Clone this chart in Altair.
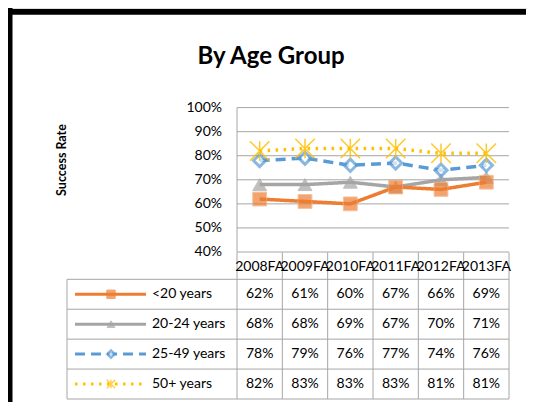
import altair as alt
import pandas as pd

# ---------------- data ----------------
periods = ["2008FA", "2009FA", "2010FA", "2011FA", "2012FA", "2013FA"]
series_names = ["<20 years", "20-24 years", "25-49 years", "50+ years"]
lt20 = [0.62, 0.61, 0.60, 0.67, 0.66, 0.69]
age20_24 = [0.68, 0.68, 0.69, 0.67, 0.70, 0.71]
age25_49 = [0.78, 0.79, 0.76, 0.77, 0.74, 0.76]
age50p = [0.82, 0.83, 0.83, 0.83, 0.81, 0.81]
y_ticks = [0.4, 0.5, 0.6, 0.7, 0.8, 0.9, 1.0]
title_text = "By Age Group"
y_title_text = "Success Rate"

series_values = [lt20, age20_24, age25_49, age50p]

rows = []
for si, (name, vals) in enumerate(zip(series_names, series_values)):
    for pi, (p, v) in enumerate(zip(periods, vals)):
        rows.append({"series": name, "sidx": si, "period": p, "pidx": pi, "value": v})
df = pd.DataFrame(rows)
df_periods = pd.DataFrame({"period": periods, "pidx": list(range(len(periods)))})
df_series = pd.DataFrame({"series": series_names, "sidx": list(range(len(series_names)))})
df_ticks = pd.DataFrame({"v": y_ticks})
df_cols = pd.DataFrame({"k": list(range(len(periods) + 1))})
df_rows = pd.DataFrame({"r": list(range(len(series_names) + 1))})

# ---------------- styles ----------------
FONT = "Lato"
FS = 14
GRID = "#a6a6a6"
colors = {"<20 years": "#ED7D31", "20-24 years": "#A5A5A5",
          "25-49 years": "#5B9BD5", "50+ years": "#FFC000"}
dashes = {"<20 years": [1, 0], "20-24 years": [1, 0],
          "25-49 years": [10, 6], "50+ years": [2.5, 5.5]}
STAR = "M-1,-1L1,1M-1,1L1,-1M0,-1L0,1"

W, H = 519, 394
XS = alt.Scale(domain=[-3.75, 6], range=[59, 501], zero=False, nice=False)
YP = alt.Scale(domain=[0.4, 1.0], range=[244, 99.6], zero=False, nice=False)
YR = alt.Scale(domain=[0, 4], range=[271.3, 391], zero=False, nice=False)

layers = []

# plot gridlines
layers.append(alt.Chart(df_ticks).mark_rule(color=GRID, strokeWidth=1).encode(
    x=alt.XDatum(0, type="quantitative", scale=XS, axis=None),
    x2=alt.X2Datum(6),
    y=alt.Y("v:Q", scale=YP, axis=None)))
# plot left axis line
layers.append(alt.Chart(df_ticks.head(1)).mark_rule(color=GRID, strokeWidth=1).encode(
    x=alt.XDatum(0, type="quantitative", scale=XS, axis=None),
    y=alt.YDatum(0.4, type="quantitative", scale=YP, axis=None),
    y2=alt.Y2Datum(1.0)))
# table vertical dividers
layers.append(alt.Chart(df_cols).mark_rule(color=GRID, strokeWidth=1).encode(
    x=alt.X("k:Q", scale=XS, axis=None),
    y=alt.YDatum(-0.9, type="quantitative", scale=YR, axis=None),
    y2=alt.Y2Datum(4)))
# table horizontal lines
layers.append(alt.Chart(df_rows).mark_rule(color=GRID, strokeWidth=1).encode(
    x=alt.XDatum(-3.75, type="quantitative", scale=XS, axis=None),
    x2=alt.X2Datum(6),
    y=alt.Y("r:Q", scale=YR, axis=None)))
# table left edge
layers.append(alt.Chart(df_rows.head(1)).mark_rule(color=GRID, strokeWidth=1).encode(
    x=alt.XDatum(-3.75, type="quantitative", scale=XS, axis=None),
    y=alt.YDatum(0, type="quantitative", scale=YR, axis=None),
    y2=alt.Y2Datum(4)))

# y tick labels
layers.append(alt.Chart(df_ticks).mark_text(font=FONT, fontSize=FS, align="right",
                                             baseline="middle", dx=-15, color="#000").encode(
    x=alt.XDatum(0, type="quantitative", scale=XS, axis=None),
    y=alt.Y("v:Q", scale=YP, axis=None),
    text=alt.Text("v:Q", format=".0%")))

# series lines + markers
marker_props = {
    "<20 years": dict(shape="square", size=190, filled=True, fill="#ED7D31",
                      stroke="#F4A672", strokeWidth=1),
    "20-24 years": dict(shape="triangle-up", size=190, filled=True, fill="#A5A5A5",
                        stroke="#A5A5A5", strokeWidth=1),
    "25-49 years": dict(shape="diamond", size=150, filled=True, fill="white",
                        stroke="#5B9BD5", strokeWidth=3),
    "50+ years": dict(shape=STAR, size=380, filled=False, stroke="#FFC000",
                      strokeWidth=1.5, opacity=0.85),
}
legend_marker_props = {
    "<20 years": dict(shape="square", size=70, filled=True, fill="#ED7D31",
                      stroke="#ED7D31", strokeWidth=1),
    "20-24 years": dict(shape="triangle-up", size=60, filled=True, fill="#A5A5A5",
                        stroke="#A5A5A5", strokeWidth=1),
    "25-49 years": dict(shape="diamond", size=55, filled=True, fill="white",
                        stroke="#5B9BD5", strokeWidth=2.5),
    "50+ years": dict(shape=STAR, size=70, filled=False, stroke="#FFC000",
                      strokeWidth=1.5),
}
draw_order = ["20-24 years", "<20 years", "25-49 years", "50+ years"]
for name in draw_order:
    base = alt.Chart(df).transform_filter(alt.datum.series == name).transform_calculate(
        xc="datum.pidx + 0.5")
    layers.append(base.mark_line(color=colors[name], strokeWidth=3.5,
                                 strokeDash=dashes[name],
                                 strokeCap="butt").encode(
        x=alt.X("xc:Q", scale=XS, axis=None),
        y=alt.Y("value:Q", scale=YP, axis=None),
        order="pidx:Q"))
    layers.append(base.mark_point(**marker_props[name]).encode(
        x=alt.X("xc:Q", scale=XS, axis=None),
        y=alt.Y("value:Q", scale=YP, axis=None)))

# header labels
layers.append(alt.Chart(df_periods).transform_calculate(xc="datum.pidx + 0.5").mark_text(
    font=FONT, fontSize=FS, baseline="middle", color="#000").encode(
    x=alt.X("xc:Q", scale=XS, axis=None),
    y=alt.YDatum(-0.42, type="quantitative", scale=YR, axis=None),
    text="period:N"))

# table values
layers.append(alt.Chart(df).transform_calculate(
    xc="datum.pidx + 0.5", sc="datum.sidx + 0.5").mark_text(
    font=FONT, fontSize=FS, baseline="middle", color="#000").encode(
    x=alt.X("xc:Q", scale=XS, axis=None),
    y=alt.Y("sc:Q", scale=YR, axis=None),
    text=alt.Text("value:Q", format=".0%")))

# legend inside table
for name in series_names:
    lb = alt.Chart(df_series).transform_filter(alt.datum.series == name).transform_calculate(
        sc="datum.sidx + 0.5")
    layers.append(lb.mark_rule(color=colors[name], strokeWidth=3,
                               strokeDash=dashes[name], strokeCap="butt").encode(
        x=alt.value(67), x2=alt.value(138),
        y=alt.Y("sc:Q", scale=YR, axis=None)))
    layers.append(lb.mark_point(**legend_marker_props[name]).encode(
        x=alt.value(103),
        y=alt.Y("sc:Q", scale=YR, axis=None)))
layers.append(alt.Chart(df_series).transform_calculate(sc="datum.sidx + 0.5").mark_text(
    font=FONT, fontSize=FS, align="left", baseline="middle", color="#000").encode(
    x=alt.value(144),
    y=alt.Y("sc:Q", scale=YR, axis=None),
    text="series:N"))

# titles
layers.append(alt.Chart(pd.DataFrame({"t": [title_text]})).mark_text(
    font=FONT, fontSize=24, fontWeight="bold", align="center", baseline="middle",
    color="#000").encode(x=alt.value(263), y=alt.value(49), text="t:N"))
layers.append(alt.Chart(pd.DataFrame({"t": [y_title_text]})).mark_text(
    font=FONT, fontSize=12.5, fontWeight="bold", align="center", baseline="middle",
    angle=270, color="#000").encode(x=alt.value(54), y=alt.value(152), text="t:N"))

# outer frame: left and top edges
one = pd.DataFrame({"a": [0]})
layers.append(alt.Chart(one).mark_rect(color="black").encode(
    x=alt.value(0), x2=alt.value(4.5), y=alt.value(0), y2=alt.value(H)))
layers.append(alt.Chart(one).mark_rect(color="black").encode(
    x=alt.value(0), x2=alt.value(W - 1), y=alt.value(1), y2=alt.value(6.7)))

chart = alt.layer(*layers).resolve_scale(
    x="independent", y="independent"
).properties(
    width=W, height=H, autosize=alt.AutoSizeParams(type="none"), padding=0
).configure_view(stroke=None).configure(background="white")

chart.save("out.html", embed_options={"renderer": "svg", "actions": False})
